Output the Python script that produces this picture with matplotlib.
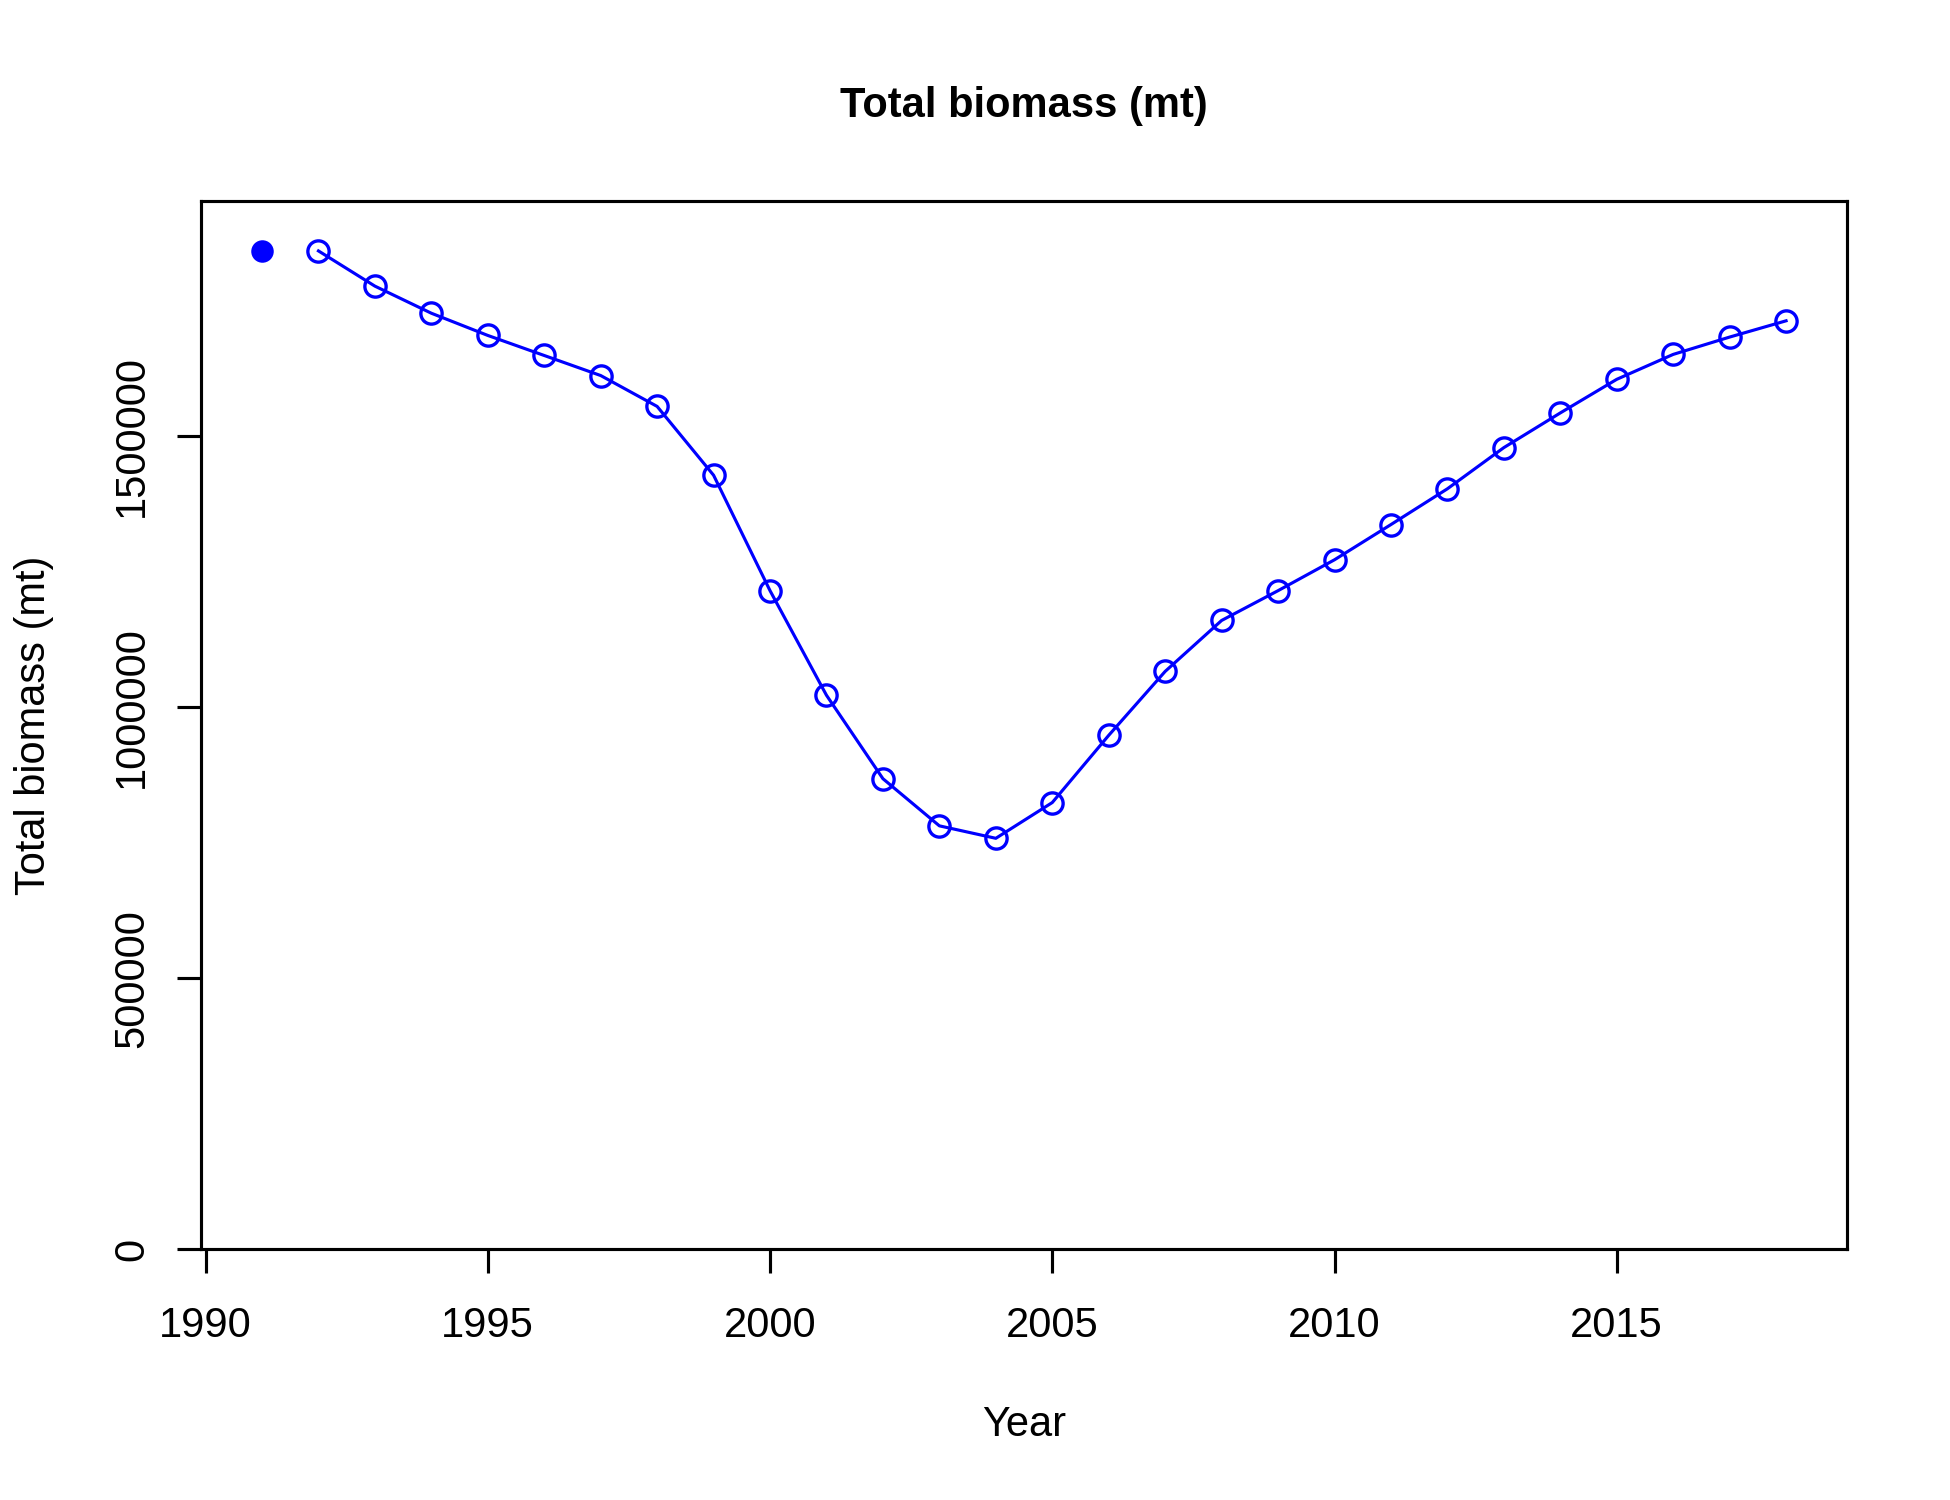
import matplotlib
matplotlib.use("Agg")
import matplotlib.pyplot as plt
import numpy as np

plt.rcParams['font.family'] = ['Liberation Sans', 'DejaVu Sans']

# first year shown as a filled point, the rest as the open-circle series
first_year = [1991]
first_biomass = [1842000]

years = [1992, 1993, 1994, 1995, 1996, 1997, 1998, 1999, 2000, 2001,
         2002, 2003, 2004, 2005, 2006, 2007, 2008, 2009, 2010, 2011,
         2012, 2013, 2014, 2015, 2016, 2017, 2018]
biomass = [1842000, 1777000, 1727000, 1686000, 1649000, 1612000, 1555000,
           1428000, 1215000, 1022000, 868000, 781000, 758000, 824000,
           948000, 1066000, 1160000, 1215000, 1272000, 1337000, 1403000,
           1479000, 1543000, 1605000, 1651000, 1683000, 1713000]

xticks = [1990, 1995, 2000, 2005, 2010, 2015]
yticks = [0, 500000, 1000000, 1500000]

fig = plt.figure(figsize=(6.5, 5), dpi=300)
ax = fig.add_axes([0.1031, 0.1673, 0.8441, 0.6987])

ax.plot(first_year, first_biomass, 'o', color='#0000FF', markersize=5.4,
        markeredgewidth=0)
ax.plot(years, biomass, '-o', color='#0000FF', linewidth=0.75,
        markersize=5.1, markerfacecolor='none', markeredgewidth=0.8)

allx = first_year + years
span = max(allx) - min(allx)
ax.set_xlim(min(allx) - 0.04 * span, max(allx) + 0.04 * span)
ax.set_ylim(0, 1.05 * max(first_biomass + biomass))

ax.set_xticks(xticks)
ax.set_xticklabels([str(t) for t in xticks])
ax.set_yticks(yticks)
ax.set_yticklabels([str(t) for t in yticks], rotation=90, va='center')

ax.tick_params(axis='both', labelsize=10, length=5.8, width=0.75,
               direction='out', color='black')
ax.tick_params(axis='x', pad=7.8)
ax.tick_params(axis='y', pad=6.0)
for s in ax.spines.values():
    s.set_linewidth(0.75)
    s.set_color('black')

ax.set_title('Total biomass (mt)', fontsize=10, fontweight='bold', pad=20.2)
ax.set_xlabel('Year', fontsize=10, labelpad=14.2)
ax.set_ylabel('Total biomass (mt)', fontsize=10, labelpad=14)

fig.savefig('out.png', dpi=300, facecolor='white')
